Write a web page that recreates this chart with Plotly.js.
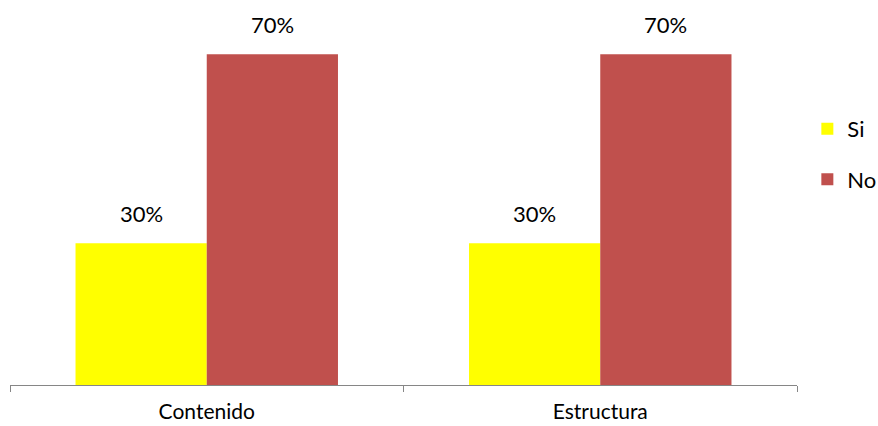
<!DOCTYPE html>
<html><head><meta charset="utf-8">
<script src="https://cdn.plot.ly/plotly-3.0.1.min.js"></script>
<style>html,body{margin:0;padding:0;background:#fff}#chart{width:878px;height:426px}</style>
</head><body><div id="chart"></div>
<script>
const categories = ['Contenido', 'Estructura'];
const siValues = [0.30, 0.30];
const noValues = [0.70, 0.70];
const seriesNames = ['Si', 'No'];
const colors = ['#FFFF00', '#C0504D'];

const FONT = 'Lato, "Liberation Sans", sans-serif';
const bargap = 0.333;
const barW = (1 - bargap) / 2;

const traces = [siValues, noValues].map((vals, i) => ({
  type: 'bar', name: seriesNames[i], x: categories, y: vals,
  marker: {color: colors[i]}, legendgroup: 'g' + i, hoverinfo: 'skip'
}));

const annotations = [];
[siValues, noValues].forEach((vals, i) => {
  vals.forEach((v, j) => {
    annotations.push({
      x: j + (i === 0 ? -barW / 2 : barW / 2), y: v, xref: 'x', yref: 'y',
      text: Math.round(v * 100) + '%', showarrow: false,
      yanchor: 'bottom', yshift: 14,
      font: {family: FONT, size: 22, color: '#000'}
    });
  });
});

const layout = {
  width: 878, height: 426,
  margin: {l: 10, r: 0, t: 7, b: 41, autoexpand: false},
  paper_bgcolor: '#fff', plot_bgcolor: '#fff',
  barmode: 'group', bargap: bargap, bargroupgap: 0,
  showlegend: true,
  legend: {x: 0.9186, xanchor: 'left', y: 0.61, yanchor: 'middle',
    bgcolor: 'rgba(0,0,0,0)',
    font: {family: FONT, size: 22, color: '#000'},
    traceorder: 'grouped', tracegroupgap: 19, itemwidth: 30},
  xaxis: {type: 'category', domain: [0, 787 / 868], showline: true, linecolor: '#868686', linewidth: 1,
    ticks: 'outside', tickson: 'boundaries', ticklen: 6, tickcolor: '#868686',
    ticklabelstandoff: 8,
    tickfont: {family: FONT, size: 21, color: '#000'}, showgrid: false, zeroline: false},
  yaxis: {range: [0, 0.8], visible: false, showgrid: false, zeroline: false},
  annotations: annotations
};

Plotly.newPlot('chart', traces, layout, {displayModeBar: false, staticPlot: true});
</script></body></html>
